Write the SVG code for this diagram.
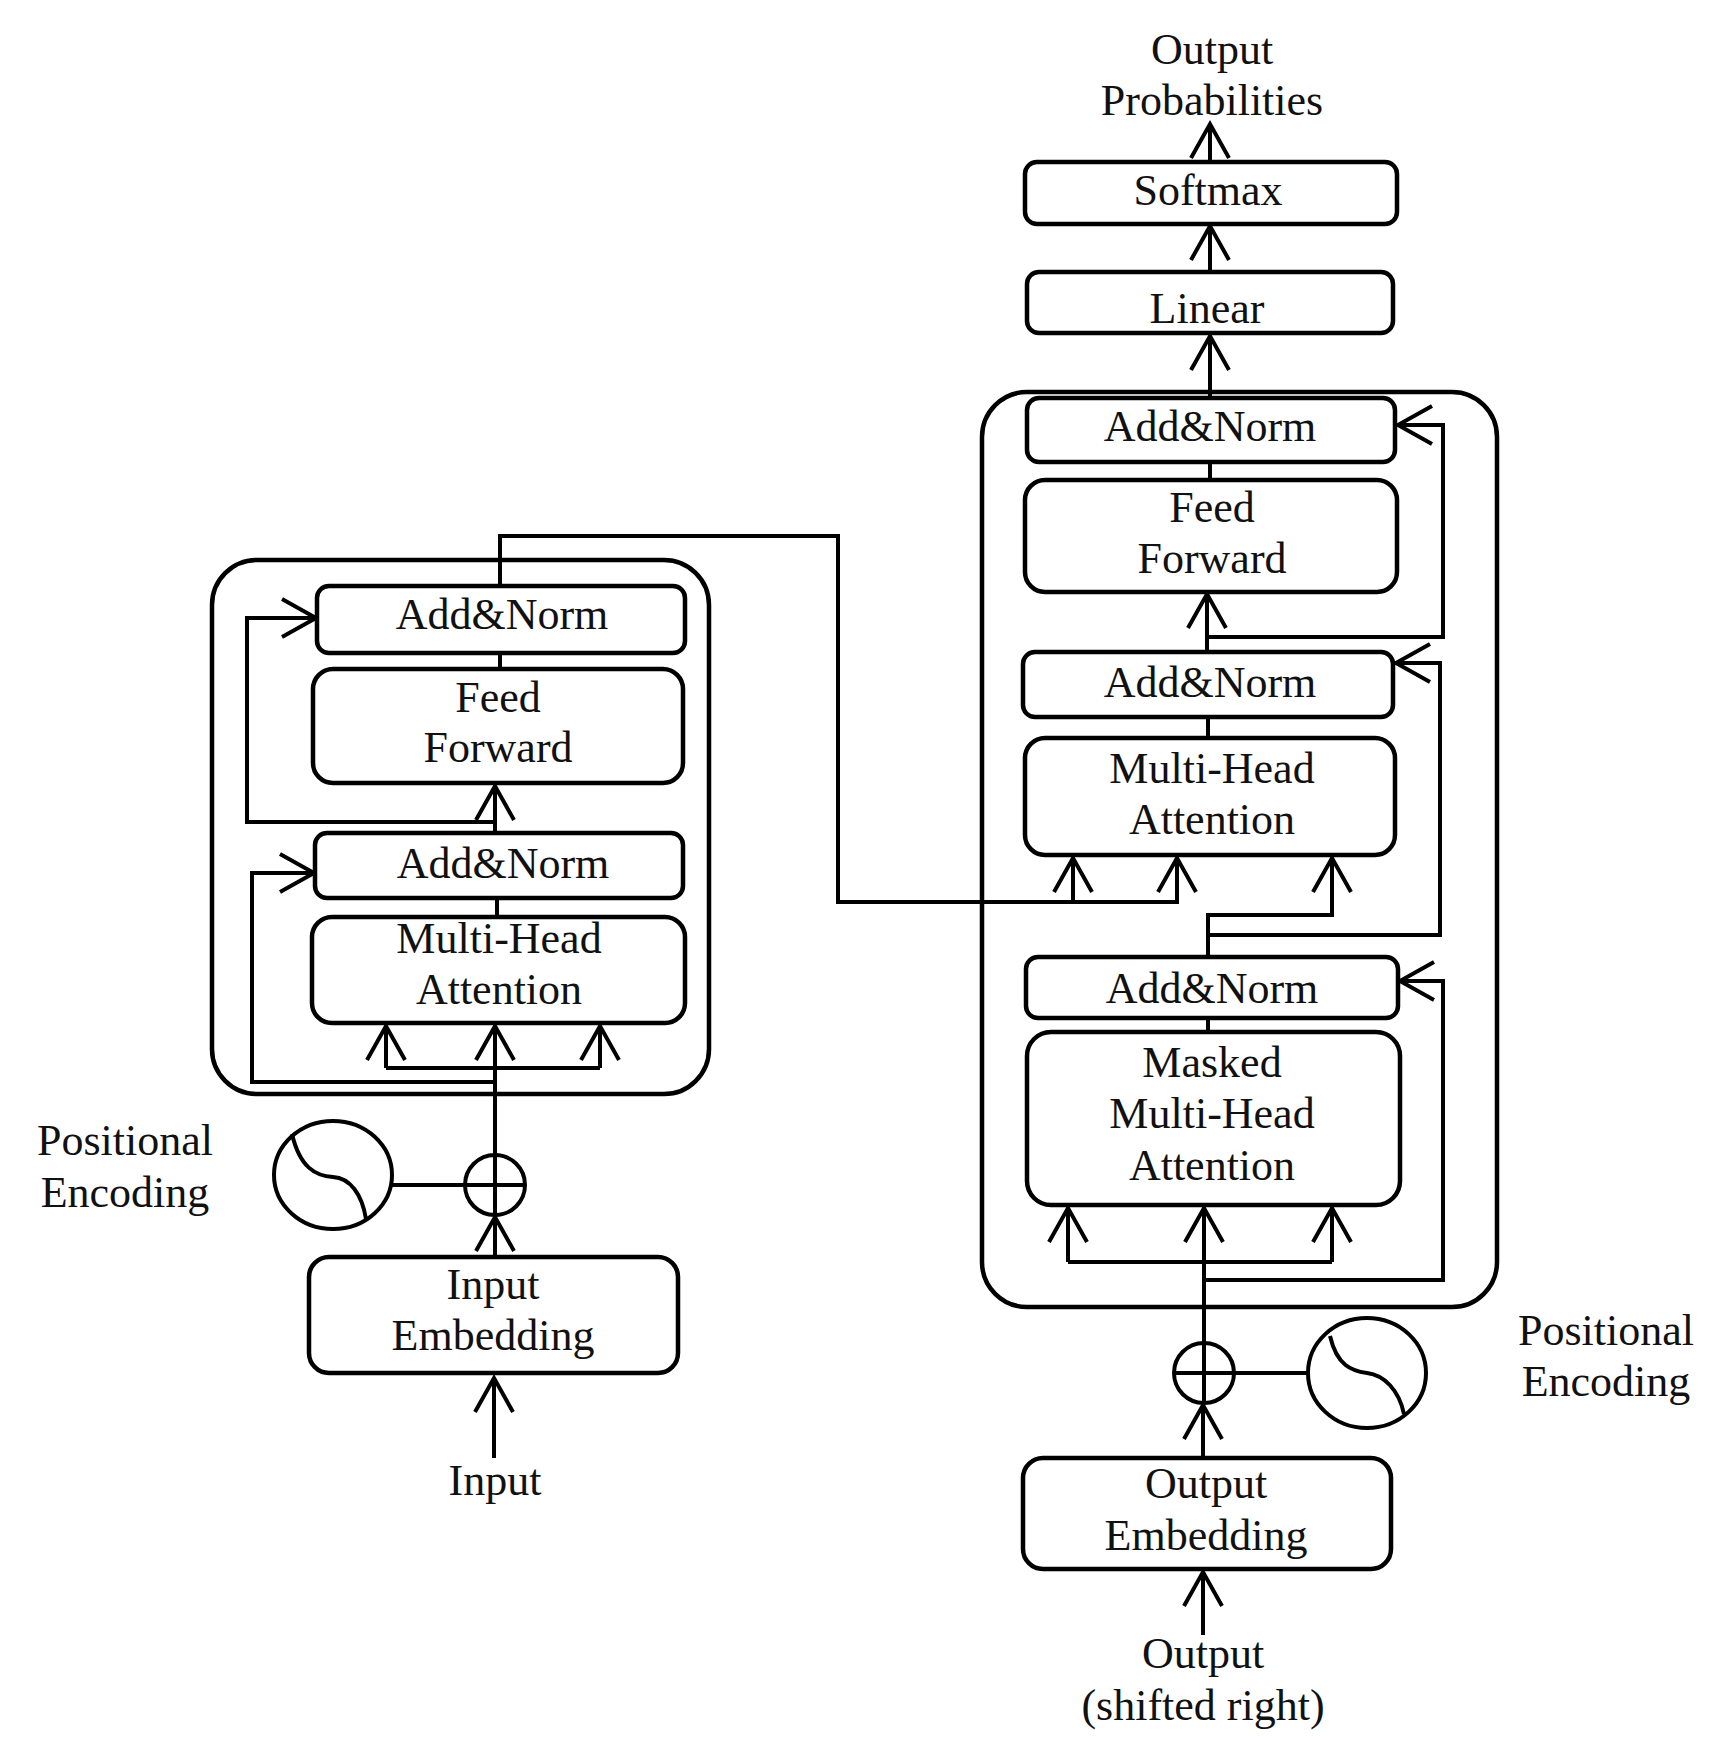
<svg xmlns="http://www.w3.org/2000/svg" width="1709" height="1753" viewBox="0 0 1709 1753">
<defs>
<style>
.box{fill:#fff;stroke:#000;stroke-width:4.5}
.frame{fill:none;stroke:#000;stroke-width:4.5}
.ln{fill:none;stroke:#000;stroke-width:4;stroke-linejoin:miter}
.arr{fill:none;stroke:#000;stroke-width:4;marker-end:url(#ah)}
.t{font-family:"Liberation Serif","Times New Roman",serif;font-size:44px;text-anchor:middle;fill:#111}
.pe{fill:#fff;stroke:#000;stroke-width:4}
</style>
<marker id="ah" markerUnits="userSpaceOnUse" viewBox="-40 -25 45 50" markerWidth="45" markerHeight="50" refX="0" refY="0" orient="auto" overflow="visible">
<path d="M-34,-19 L0,0 L-34,19" fill="none" stroke="#000" stroke-width="4"/>
</marker>
</defs>
<rect width="1709" height="1753" fill="#fff"/>

<!-- frames -->
<g id="encoder-frame"><rect class="frame" x="212" y="560" width="497" height="534" rx="45"/></g>
<g id="decoder-frame"><rect class="frame" x="982" y="392" width="515" height="915" rx="45"/></g>

<!-- connectors -->
<g id="connectors">
<!-- encoder -->
<path class="arr" d="M494,1458 V1378"/>
<path class="arr" d="M495,1257 V1217"/>
<path class="arr" d="M495,1155 V1026"/>
<path class="ln" d="M386,1068 H600"/>
<path class="arr" d="M386,1068 V1026"/>
<path class="arr" d="M600,1068 V1026"/>
<path class="arr" d="M495,1082 H252 V873 H314"/>
<path class="ln" d="M497,917 V898"/>
<path class="arr" d="M495,833 V786"/>
<path class="arr" d="M495,822 H247 V618 H316"/>
<path class="ln" d="M500,669 V653"/>
<!-- cross to decoder -->
<path class="arr" d="M500,586 V536 H838 V902 H1177 V858"/>
<path class="arr" d="M1073,902 V858"/>
<!-- decoder -->
<path class="arr" d="M1203,1635 V1572"/>
<path class="arr" d="M1203,1458 V1405"/>
<path class="arr" d="M1204,1343 V1208"/>
<path class="ln" d="M1068,1262 H1332"/>
<path class="arr" d="M1068,1262 V1208"/>
<path class="arr" d="M1332,1262 V1208"/>
<path class="arr" d="M1204,1280 H1443 V981 H1400"/>
<path class="ln" d="M1208,1032 V1018"/>
<path class="arr" d="M1208,957 V915 H1332 V858"/>
<path class="arr" d="M1208,935 H1440 V663 H1396"/>
<path class="ln" d="M1208,738 V717"/>
<path class="arr" d="M1207,652 V594"/>
<path class="arr" d="M1207,637 H1443 V425 H1398"/>
<path class="ln" d="M1210,480 V462"/>
<path class="arr" d="M1210,398 V336"/>
<path class="arr" d="M1210,272 V226"/>
<path class="arr" d="M1210,162 V124"/>
<!-- positional encoding links -->
<path class="ln" d="M392,1185 H465"/>
<path class="ln" d="M1234,1373 H1308"/>
</g>

<!-- encoder nodes -->
<g id="enc-addnorm2"><rect class="box" x="317" y="586" width="368" height="67" rx="12"/><text class="t" x="502" y="629">Add&amp;Norm</text></g>
<g id="enc-ff"><rect class="box" x="313" y="669" width="370" height="114" rx="20"/><text class="t" x="498" y="712">Feed</text><text class="t" x="498" y="762">Forward</text></g>
<g id="enc-addnorm1"><rect class="box" x="315" y="833" width="368" height="65" rx="12"/><text class="t" x="503" y="878">Add&amp;Norm</text></g>
<g id="enc-mha"><rect class="box" x="312" y="917" width="373" height="106" rx="20"/><text class="t" x="499" y="953">Multi-Head</text><text class="t" x="499" y="1004">Attention</text></g>
<g id="enc-embed"><rect class="box" x="309" y="1257" width="369" height="116" rx="20"/><text class="t" x="493" y="1299">Input</text><text class="t" x="493" y="1350">Embedding</text></g>
<g id="enc-add"><circle class="pe" cx="495" cy="1185" r="30"/><path class="ln" d="M465,1185 H525 M495,1155 V1215"/></g>
<g id="enc-pe"><ellipse class="pe" cx="333" cy="1175" rx="59" ry="54"/><path class="ln" d="M292,1134 C300,1168 316,1176 333,1177 C350,1178 362,1194 366,1219"/></g>
<g id="enc-pe-label"><text class="t" x="125" y="1155">Positional</text><text class="t" x="125" y="1207">Encoding</text></g>
<g id="input-label"><text class="t" x="495" y="1495">Input</text></g>

<!-- decoder nodes -->
<g id="dec-softmax"><rect class="box" x="1025" y="162" width="372" height="62" rx="12"/><text class="t" x="1208" y="205">Softmax</text></g>
<g id="dec-linear"><rect class="box" x="1027" y="272" width="366" height="61" rx="12"/><text class="t" x="1207" y="323">Linear</text></g>
<g id="dec-addnorm3"><rect class="box" x="1027" y="398" width="368" height="64" rx="12"/><text class="t" x="1210" y="441">Add&amp;Norm</text></g>
<g id="dec-ff"><rect class="box" x="1025" y="480" width="372" height="112" rx="20"/><text class="t" x="1212" y="522">Feed</text><text class="t" x="1212" y="573">Forward</text></g>
<g id="dec-addnorm2"><rect class="box" x="1023" y="652" width="370" height="65" rx="12"/><text class="t" x="1210" y="697">Add&amp;Norm</text></g>
<g id="dec-mha"><rect class="box" x="1025" y="738" width="370" height="117" rx="20"/><text class="t" x="1212" y="783">Multi-Head</text><text class="t" x="1212" y="834">Attention</text></g>
<g id="dec-addnorm1"><rect class="box" x="1026" y="957" width="372" height="61" rx="12"/><text class="t" x="1212" y="1003">Add&amp;Norm</text></g>
<g id="dec-masked"><rect class="box" x="1027" y="1032" width="373" height="173" rx="24"/><text class="t" x="1212" y="1077">Masked</text><text class="t" x="1212" y="1128">Multi-Head</text><text class="t" x="1212" y="1180">Attention</text></g>
<g id="dec-add"><circle class="pe" cx="1204" cy="1373" r="30"/><path class="ln" d="M1174,1373 H1234 M1204,1343 V1403"/></g>
<g id="dec-pe"><ellipse class="pe" cx="1367" cy="1373" rx="59" ry="55"/><path class="ln" d="M1330,1336 C1337,1366 1352,1371 1367,1373 C1384,1375 1399,1390 1404,1414"/></g>
<g id="dec-pe-label"><text class="t" x="1606" y="1345">Positional</text><text class="t" x="1606" y="1396">Encoding</text></g>
<g id="dec-embed"><rect class="box" x="1023" y="1458" width="368" height="111" rx="20"/><text class="t" x="1206" y="1498">Output</text><text class="t" x="1206" y="1550">Embedding</text></g>
<g id="output-label"><text class="t" x="1203" y="1668">Output</text><text class="t" x="1203" y="1720">(shifted right)</text></g>
<g id="prob-label"><text class="t" x="1212" y="64">Output</text><text class="t" x="1212" y="115">Probabilities</text></g>
</svg>
